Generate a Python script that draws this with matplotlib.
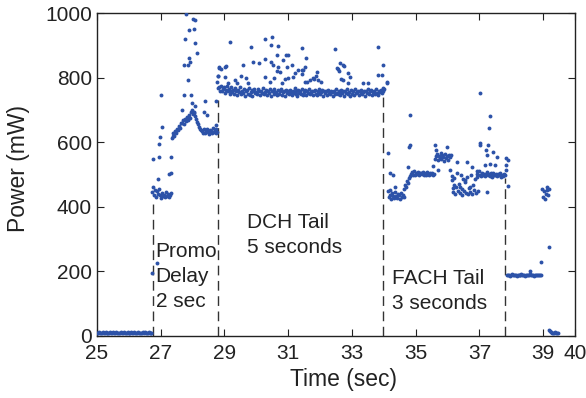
import numpy as np
import matplotlib
matplotlib.use('Agg')
import matplotlib.pyplot as plt

plt.rcParams['font.family'] = ['Liberation Sans', 'DejaVu Sans']

# sampling period of the dense power trace (sec)
dt = 0.03

# dense trace pieces: (start time, power samples in mW)
idle_start = (25.00, [10, 9, 11, 10, 8, 10, 12, 9, 10, 11, 10, 9, 10, 8, 11, 10, 10, 12, 9, 10,
                      11, 9, 10, 10, 8, 11, 10, 9, 12, 10, 10, 9, 11, 10, 8, 10, 11, 9, 10, 12,
                      10, 9, 10, 11, 10, 8, 10, 9, 11, 10, 12, 10, 9, 10, 11, 10, 9, 10])
promo_a = (26.74, [445, 460, 438, 452, 430, 448, 440, 455])
promo_b = (26.98, [436, 428, 442, 432, 438, 430, 445, 434, 440, 429, 437, 444])
promo_c = (27.34, [612, 620, 628, 618, 635, 630, 642, 638, 650, 645, 658])
promo_d = (27.67, [660, 668, 655, 672, 665, 678, 670, 685, 676, 692, 700, 688, 695])
promo_e = (28.06, [690, 680, 672, 662, 655, 648, 642, 638])
promo_f = (28.30, [636, 630, 642, 628, 635, 640, 632, 626, 638, 634, 629, 644, 631, 637, 627, 640, 633])
dch = (28.80, [768, 772, 760, 775, 758, 766, 770, 752, 762, 774, 757, 765, 748, 760, 771, 755, 763, 750, 768, 758, 745, 762, 754, 770, 749,
               760, 752, 766, 744, 758, 763, 750, 769, 747, 756, 761, 742, 758, 766, 751, 755, 748, 764, 757, 745, 760, 753, 767, 749, 756,
               762, 746, 758, 751, 765, 743, 757, 760, 748, 766, 752, 755, 745, 761, 750, 758, 764, 747, 754, 759, 744, 762, 751, 757, 749,
               763, 755, 746, 760, 752, 768, 748, 757, 744, 761, 753, 759, 750, 765, 747, 756, 762, 745, 758, 751, 764, 749, 755, 760, 746,
               757, 763, 750, 745, 758, 752, 766, 748, 755, 761, 744, 759, 751, 757, 747, 763, 753, 749, 760, 756, 743, 758, 750, 765, 752,
               748, 760, 755, 746, 762, 751, 757, 744, 759, 753, 766, 749, 756, 742, 761, 750, 758, 747, 764, 752, 755, 760, 745, 757, 751,
               763, 748, 756, 760, 744, 758, 752, 765, 749, 757, 761, 746, 755, 759, 750, 764, 753, 747, 760, 756, 762, 751, 768, 758, 765])
fach_a = (34.14, [448, 430, 438, 425, 442, 434, 428, 445, 432, 426, 440, 436, 423, 444, 431, 437, 429])
fach_b = (34.65, [455, 468, 462, 480, 475, 490, 495])
fach_c = (34.86, [503, 507, 500, 510, 498, 505, 502, 508, 499, 504, 506, 501, 509, 497, 503, 505, 500,
                  507, 502, 498, 506, 501, 504, 499, 503])
fach_d = (35.60, [548, 556, 562, 545, 558, 552, 566, 549, 560, 554, 542, 563, 551, 557, 546, 559, 553, 561])
fach_e = (36.14, [495, 445, 488, 440, 462, 505, 448, 470, 442, 498, 455, 438, 485, 450, 476, 443, 492,
                  440, 458, 446, 500, 441, 468, 452, 487, 444, 503, 448, 510])
fach_f = (37.02, [500, 496, 505, 498, 503, 494, 501, 507, 497, 502, 495, 504, 499, 493, 506, 500, 497,
                  503, 495, 501, 498, 504, 492, 500, 496, 502, 498])
fach_tail = (37.87, [189, 188, 190, 187, 189, 191, 188, 189, 190, 188, 187, 189, 190, 189, 188, 191, 189, 188,
                     190, 187, 189, 188, 190, 189, 191, 188, 189, 190, 187, 189, 188, 190, 189, 188, 190, 189])
burst_end = (38.97, [455, 430, 448, 425, 440, 452, 435])
idle_end = (39.19, [20, 14, 11, 10, 9, 10, 11, 9, 10, 10])

pieces = [idle_start, promo_a, promo_b, promo_c, promo_d, promo_e, promo_f, dch,
          fach_a, fach_b, fach_c, fach_d, fach_e, fach_f, fach_tail, burst_end, idle_end]

# sparse outlier samples
spike_t = [26.72, 26.89, 26.75, 26.95, 26.95, 26.98, 27.03, 27.00, 27.31, 27.27, 27.32, 26.92,
           27.79, 28.02, 28.07, 27.89, 28.05, 27.76, 28.09, 28.15, 27.90, 27.92, 27.74, 27.87,
           27.87, 27.74, 27.95, 27.97, 28.07, 28.39, 28.37, 28.44, 28.75, 27.66,
           28.83, 28.90, 28.80, 28.77, 29.02, 28.75,
           29.17, 29.83, 30.27, 30.48, 30.46, 30.66, 30.92, 31.00, 30.85, 30.27, 29.90, 30.09,
           29.59, 30.46, 30.53, 28.83, 29.04, 30.97, 31.11, 30.69, 30.74, 30.64, 31.21, 31.30,
           28.81, 29.02, 29.52, 30.27, 30.56, 30.43, 30.90, 31.00, 31.16, 31.44, 31.44, 29.67,
           29.33, 29.75, 29.12, 29.40, 30.80, 30.69, 31.42, 32.47, 33.83, 33.99, 33.83, 32.62,
           32.73, 32.52, 32.60, 32.88, 32.94, 32.66, 32.73, 31.55, 31.53, 31.45, 31.91, 31.87,
           31.94, 31.79, 31.68, 31.53, 32.02, 33.35, 33.51, 33.93, 34.09, 34.10, 32.75, 32.57,
           32.88, 31.81, 31.58,
           34.14, 34.18, 34.30, 34.35, 34.19, 34.82, 34.82, 34.80, 34.77, 35.60, 35.97, 35.71,
           35.64, 35.55, 36.29, 36.60, 36.13, 36.18, 37.33, 37.30, 37.02, 37.02, 37.28, 37.43,
           37.20, 37.23, 37.54, 37.17, 37.33, 37.49, 37.85, 37.90, 37.85, 37.83, 37.90, 37.23,
           36.76, 36.91, 36.94, 36.20, 36.39, 36.55, 36.70, 36.08, 37.02,
           38.59, 38.93, 39.19, 39.11, 39.20]
spike_p = [194, 225, 548, 555, 593, 617, 648, 746, 555, 501, 506, 486,
           997, 983, 978, 947, 949, 920, 908, 875, 860, 849, 839, 838,
           793, 746, 746, 722, 712, 728, 694, 684, 653, 700,
           829, 826, 806, 787, 834, 728,
           909, 896, 919, 925, 900, 870, 870, 870, 854, 858, 847, 845,
           839, 849, 839, 832, 836, 834, 839, 834, 818, 821, 813, 824,
           805, 803, 805, 803, 798, 787, 795, 798, 803, 811, 824, 798,
           793, 782, 784, 784, 782, 898, 891, 888, 894, 839, 808, 845,
           839, 829, 821, 815, 803, 796, 793, 861, 834, 824, 818, 806,
           793, 798, 793, 787, 787, 784, 784, 808, 787, 784, 836, 826,
           782, 795, 787,
           566, 504, 498, 462, 452, 684, 591, 586, 524, 591, 586, 514,
           575, 526, 540, 540, 483, 457, 681, 643, 596, 591, 591, 571,
           576, 560, 555, 529, 534, 529, 550, 545, 529, 514, 464, 447,
           522, 512, 493, 467, 462, 483, 462, 514, 751,
           201, 228, 275, 462, 456]

# state transition markers: (time, top of dashed line in mW)
bound_t = [26.76, 28.79, 33.98, 37.80]
bound_top = [425, 730, 746, 489]

t_all = np.concatenate([t0 + dt * np.arange(len(v)) for t0, v in pieces] + [np.array(spike_t)])
p_all = np.concatenate([np.array(v, float) for t0, v in pieces] + [np.array(spike_p, float)])

fig = plt.figure(figsize=(5.86, 3.98), dpi=100)
ax = fig.add_axes([0.1655, 0.1558, 0.8157, 0.8115])

ax.plot(t_all, p_all, 'o', ms=2.8, mec='none', mfc='#2c52a8', zorder=3)

for x, top in zip(bound_t, bound_top):
    ax.plot([x, x], [0, top], color='0.2', lw=1.0, dashes=(7, 4), zorder=2)

txt = dict(fontsize=15, va='top', ha='left', linespacing=1.4, color='#222222')
ax.text(26.84, 290, 'Promo\nDelay\n2 sec', **txt)
ax.text(29.72, 382, 'DCH Tail\n5 seconds', **txt)
ax.text(34.26, 207, 'FACH Tail\n3 seconds', **txt)

ax.set_xlim(25, 40)
ax.set_ylim(0, 1000)
ax.set_xticks([25, 27, 29, 31, 33, 35, 37, 39, 40])
ax.set_yticks([0, 200, 400, 600, 800, 1000])
ax.tick_params(direction='in', top=True, right=True, length=5, labelsize=15, colors='#222222')
ax.tick_params(axis='x', pad=5.5)
ax.tick_params(axis='y', pad=3.5)
ax.set_xlabel('Time (sec)', fontsize=16.5, color='#222222')
ax.set_ylabel('Power (mW)', fontsize=16.5, color='#222222')
ax.xaxis.set_label_coords(0.515, -0.1)
ax.yaxis.set_label_coords(-0.14, 0.52)
for s in ax.spines.values():
    s.set_linewidth(1.0)
    s.set_color('#222222')

fig.savefig('out.png', dpi=100)
